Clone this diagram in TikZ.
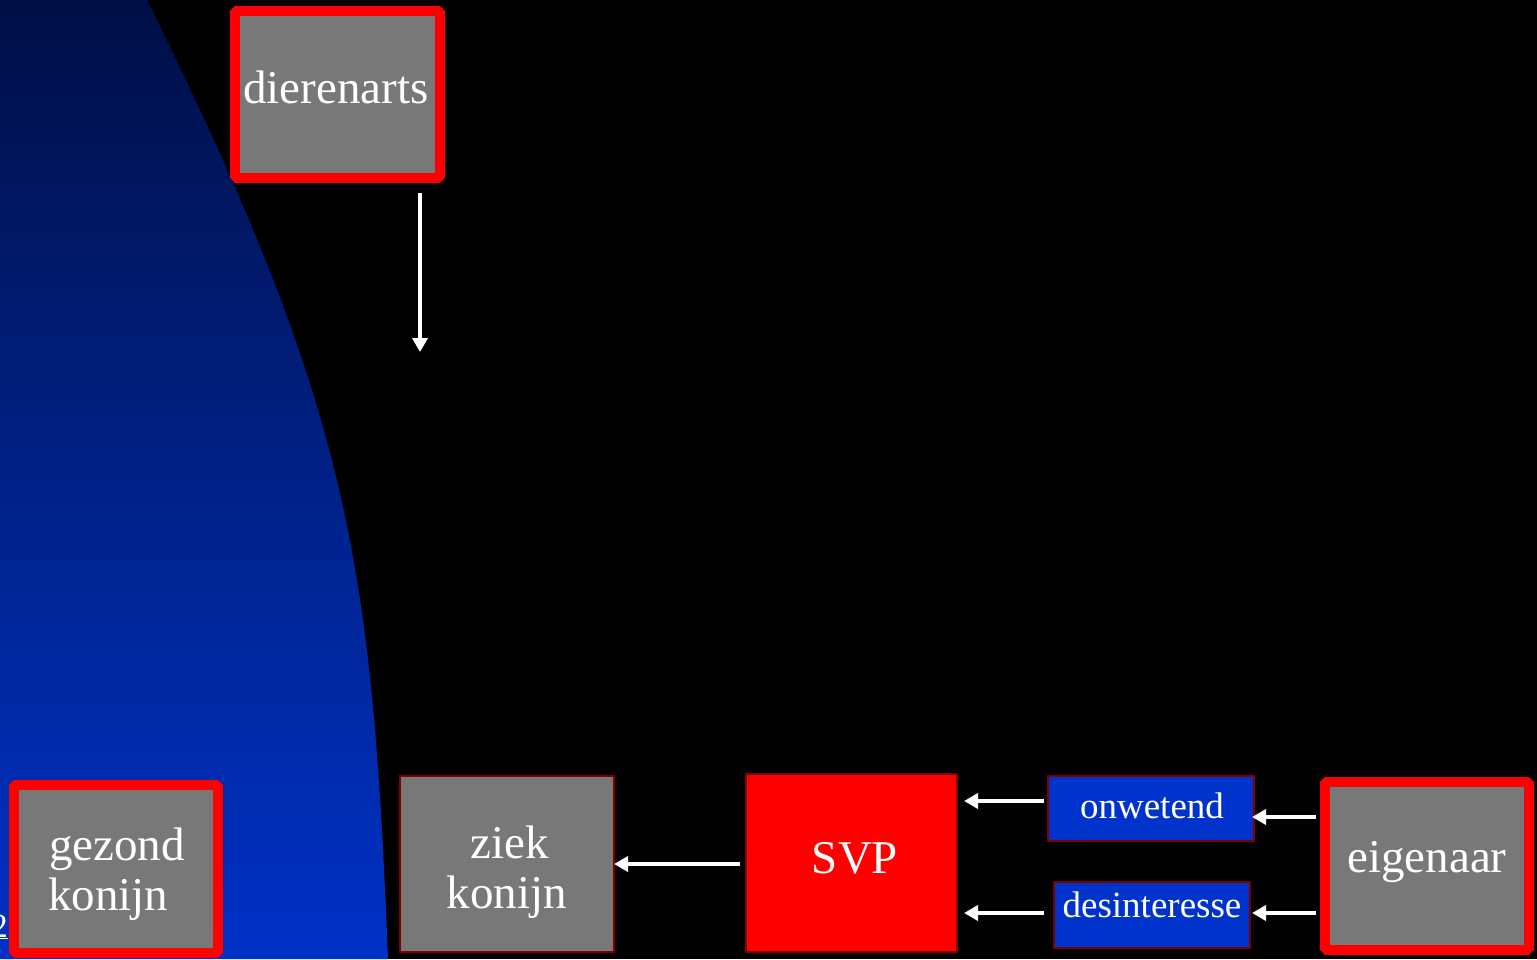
\documentclass[tikz,border=0pt]{standalone}
\usepackage{fontspec}
\setmainfont{Liberation Serif}
\usetikzlibrary{arrows.meta}
\definecolor{boxgray}{RGB}{120,120,120}
\definecolor{darkred}{RGB}{128,0,0}
\definecolor{boxblue}{RGB}{0,51,204}
\definecolor{navytop}{RGB}{0,15,70}
\definecolor{navymid}{RGB}{0,42,165}
\definecolor{navybot}{RGB}{0,50,200}
\tikzset{
  bigbox/.style={draw=red, line width=10pt, line join=bevel, fill=boxgray, outer sep=0pt, inner sep=0pt},
  plainbox/.style={draw=darkred, line width=2pt, fill=boxgray, outer sep=0pt, inner sep=0pt},
  svpbox/.style={draw=darkred, line width=2pt, fill=red, outer sep=0pt, inner sep=0pt},
  bluebox/.style={draw=darkred, line width=2pt, fill=boxblue, outer sep=0pt, inner sep=0pt},
  lbl/.style={text=white, inner sep=0pt, font=\fontsize{47}{50}\selectfont},
  slbl/.style={text=white, inner sep=0pt, font=\fontsize{37}{42}\selectfont},
  arr/.style={draw=white, line width=3.5pt, -{Triangle[length=14pt,width=15pt]}}
}
\begin{document}
\begin{tikzpicture}[x=1pt,y=-1pt]
\fill[black] (0,0) rectangle (1537,959);
\useasboundingbox (0,0) rectangle (1537,959);
\shade[top color=navytop, middle color=navymid, bottom color=navybot]
  (0,0) -- (147,0) .. controls (350,410) and (372,559) .. (388,959) -- (0,959) -- cycle;

% boxes
\node[bigbox, minimum width=205pt, minimum height=167pt] (vet) at (337.5,94.5) {};
\node[bigbox, minimum width=204.5pt, minimum height=167.5pt] (gez) at (115.75,868.75) {};
\node[plainbox, minimum width=214pt, minimum height=176pt] (ziek) at (507,864) {};
\node[svpbox, minimum width=211pt, minimum height=178pt] (svp) at (851.5,863) {};
\node[bluebox, minimum width=206pt, minimum height=65pt] (onw) at (1151,808.5) {};
\node[bluebox, minimum width=196pt, minimum height=66pt] (des) at (1152,915) {};
\node[bigbox, minimum width=203.5pt, minimum height=168.5pt] (eig) at (1427,866) {};

% labels
\node[lbl, anchor=base] (vett) at (336,103) {dierenarts};
\node[lbl, anchor=base west] (gez1) at (49,860) {gezond};
\node[lbl, anchor=base west] (gez2) at (48,910) {konijn};
\node[lbl, anchor=base] (ziek1) at (510,858) {ziek};
\node[lbl, anchor=base] (ziek2) at (507,908) {konijn};
\node[lbl, anchor=base] (svpt) at (855,873) {SVP};
\node[slbl, anchor=base] (onwt) at (1152,818) {onwetend};
\node[slbl, anchor=base] (dest) at (1152,917) {desinteresse};
\node[lbl, anchor=base] (eigt) at (1427,872) {eigenaar};
\node[text=white, inner sep=0pt, anchor=base east, font=\fontsize{34}{40}\selectfont] (pg) at (8,937) {\underline{2}};

% connectors
\coordinate (vetend) at (420,352);
\draw[arr] (vetend |- 0,193) -- (vetend);
\draw[arr] ([xshift=-6pt]svp.west |- ziek.east) -- (ziek.east);
\draw[arr] ([xshift=-4pt,yshift=7.5pt]onw.west) -- ([xshift=7pt,yshift=62pt]svp.east);
\draw[arr] ([xshift=-10pt,yshift=2pt]des.west) -- ([xshift=7pt,yshift=-50pt]svp.east);
\draw[arr] ([xshift=-9.5pt,yshift=49pt]eig.west) -- ([xshift=-2pt,yshift=-8.5pt]onw.east);
\draw[arr] ([xshift=-9.5pt,yshift=-47pt]eig.west) -- ([xshift=2pt,yshift=2pt]des.east);
\end{tikzpicture}
\end{document}
